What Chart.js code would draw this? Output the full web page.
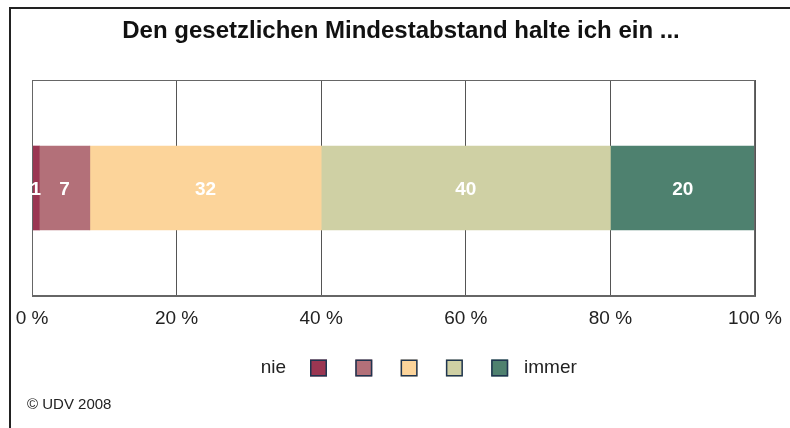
<!DOCTYPE html>
<html>
<head>
<meta charset="utf-8">
<script src="https://cdn.jsdelivr.net/npm/chart.js@4/dist/chart.umd.min.js"></script>
<style>
  html, body { margin: 0; padding: 0; background: #fff; }
  #wrap { width: 790px; height: 428px; position: relative; }
</style>
</head>
<body>
<div id="wrap"><canvas id="chart" width="790" height="428"></canvas></div>
<script>
// Data
const titleText = "Den gesetzlichen Mindestabstand halte ich ein ...";
const categories = [""];
const seriesNames = ["nie", "2", "3", "4", "immer"];
const seriesValues = [1, 7, 32, 40, 20];
const seriesColors = ["#9b3652", "#b37079", "#fcd49a", "#cfd0a4", "#4e816f"];
const tickValues = [0, 20, 40, 60, 80, 100];
const sourceText = "\u00a9 UDV 2008";

const FONT = "'Liberation Sans', Arial, sans-serif";

// frame, title, plot box, bar labels, legend, source
const decorations = {
    id: "decorations",
    beforeDraw(chart) {
        const ctx = chart.ctx;
        ctx.save();
        ctx.fillStyle = "#222";
        ctx.fillRect(9, 7, 2, 421);
        ctx.fillRect(9, 7, 781, 2);
        ctx.fillStyle = "#111";
        ctx.font = "bold 24px " + FONT;
        ctx.textAlign = "center";
        ctx.textBaseline = "middle";
        ctx.fillText(titleText, 401, 31);
        ctx.restore();
    },
    afterDraw(chart) {
        const ctx = chart.ctx;
        const a = chart.chartArea;
        ctx.save();
        ctx.strokeStyle = "#666";
        ctx.lineWidth = 1;
        ctx.strokeRect(Math.round(a.left) + 0.5, Math.round(a.top) + 0.5,
                       Math.round(a.right - a.left) - 1, Math.round(a.bottom - a.top) - 1);

        // values in bars
        ctx.fillStyle = "#fff";
        ctx.font = "bold 19px " + FONT;
        ctx.textAlign = "center";
        ctx.textBaseline = "middle";
        chart.data.datasets.forEach((ds, i) => {
            const bar = chart.getDatasetMeta(i).data[0];
            ctx.fillText(String(ds.data[0]), (bar.x + bar.base) / 2, bar.y + 2);
        });

        // legend
        const ly = 368;
        ctx.fillStyle = "#222";
        ctx.font = "19px " + FONT;
        ctx.textAlign = "right";
        ctx.fillText(seriesNames[0], 286, ly);
        seriesColors.forEach((c, i) => {
            const bx = 310 + i * 45.3;
            ctx.fillStyle = c;
            ctx.fillRect(bx, ly - 8.5, 17, 17);
            ctx.strokeStyle = "#1f3550";
            ctx.lineWidth = 1.5;
            ctx.strokeRect(bx + 0.75, ly - 7.75, 15.5, 15.5);
        });
        ctx.fillStyle = "#222";
        ctx.textAlign = "left";
        ctx.fillText(seriesNames[4], 524, ly);

        ctx.font = "15px " + FONT;
        ctx.fillText(sourceText, 27, 405);
        ctx.restore();
    }
};

new Chart("chart", {
    type: "bar",
    data: {
        labels: categories,
        datasets: seriesValues.map((v, i) => ({
            label: seriesNames[i],
            data: [v],
            backgroundColor: seriesColors[i],
            borderWidth: 0,
            barThickness: 84
        }))
    },
    options: {
        indexAxis: "y",
        responsive: false,
        animation: false,
        layout: { padding: { left: 32, right: 35, top: 80, bottom: 86 } },
        plugins: {
            legend: { display: false },
            title: { display: false },
            tooltip: { enabled: false }
        },
        scales: {
            x: {
                stacked: true,
                min: 0,
                max: 100,
                afterBuildTicks: scale => { scale.ticks = tickValues.map(v => ({ value: v })); },
                afterFit: scale => { scale.paddingLeft = 0; scale.paddingRight = 0; },
                ticks: {
                    color: "#222",
                    padding: 12,
                    maxRotation: 0,
                    font: { family: FONT, size: 19, lineHeight: "22px" },
                    callback: v => v + " %"
                },
                grid: { color: "#555", lineWidth: 1, drawTicks: false },
                border: { color: "#666", width: 1 }
            },
            y: {
                stacked: true,
                display: false
            }
        }
    },
    plugins: [decorations]
});
</script>
</body>
</html>
